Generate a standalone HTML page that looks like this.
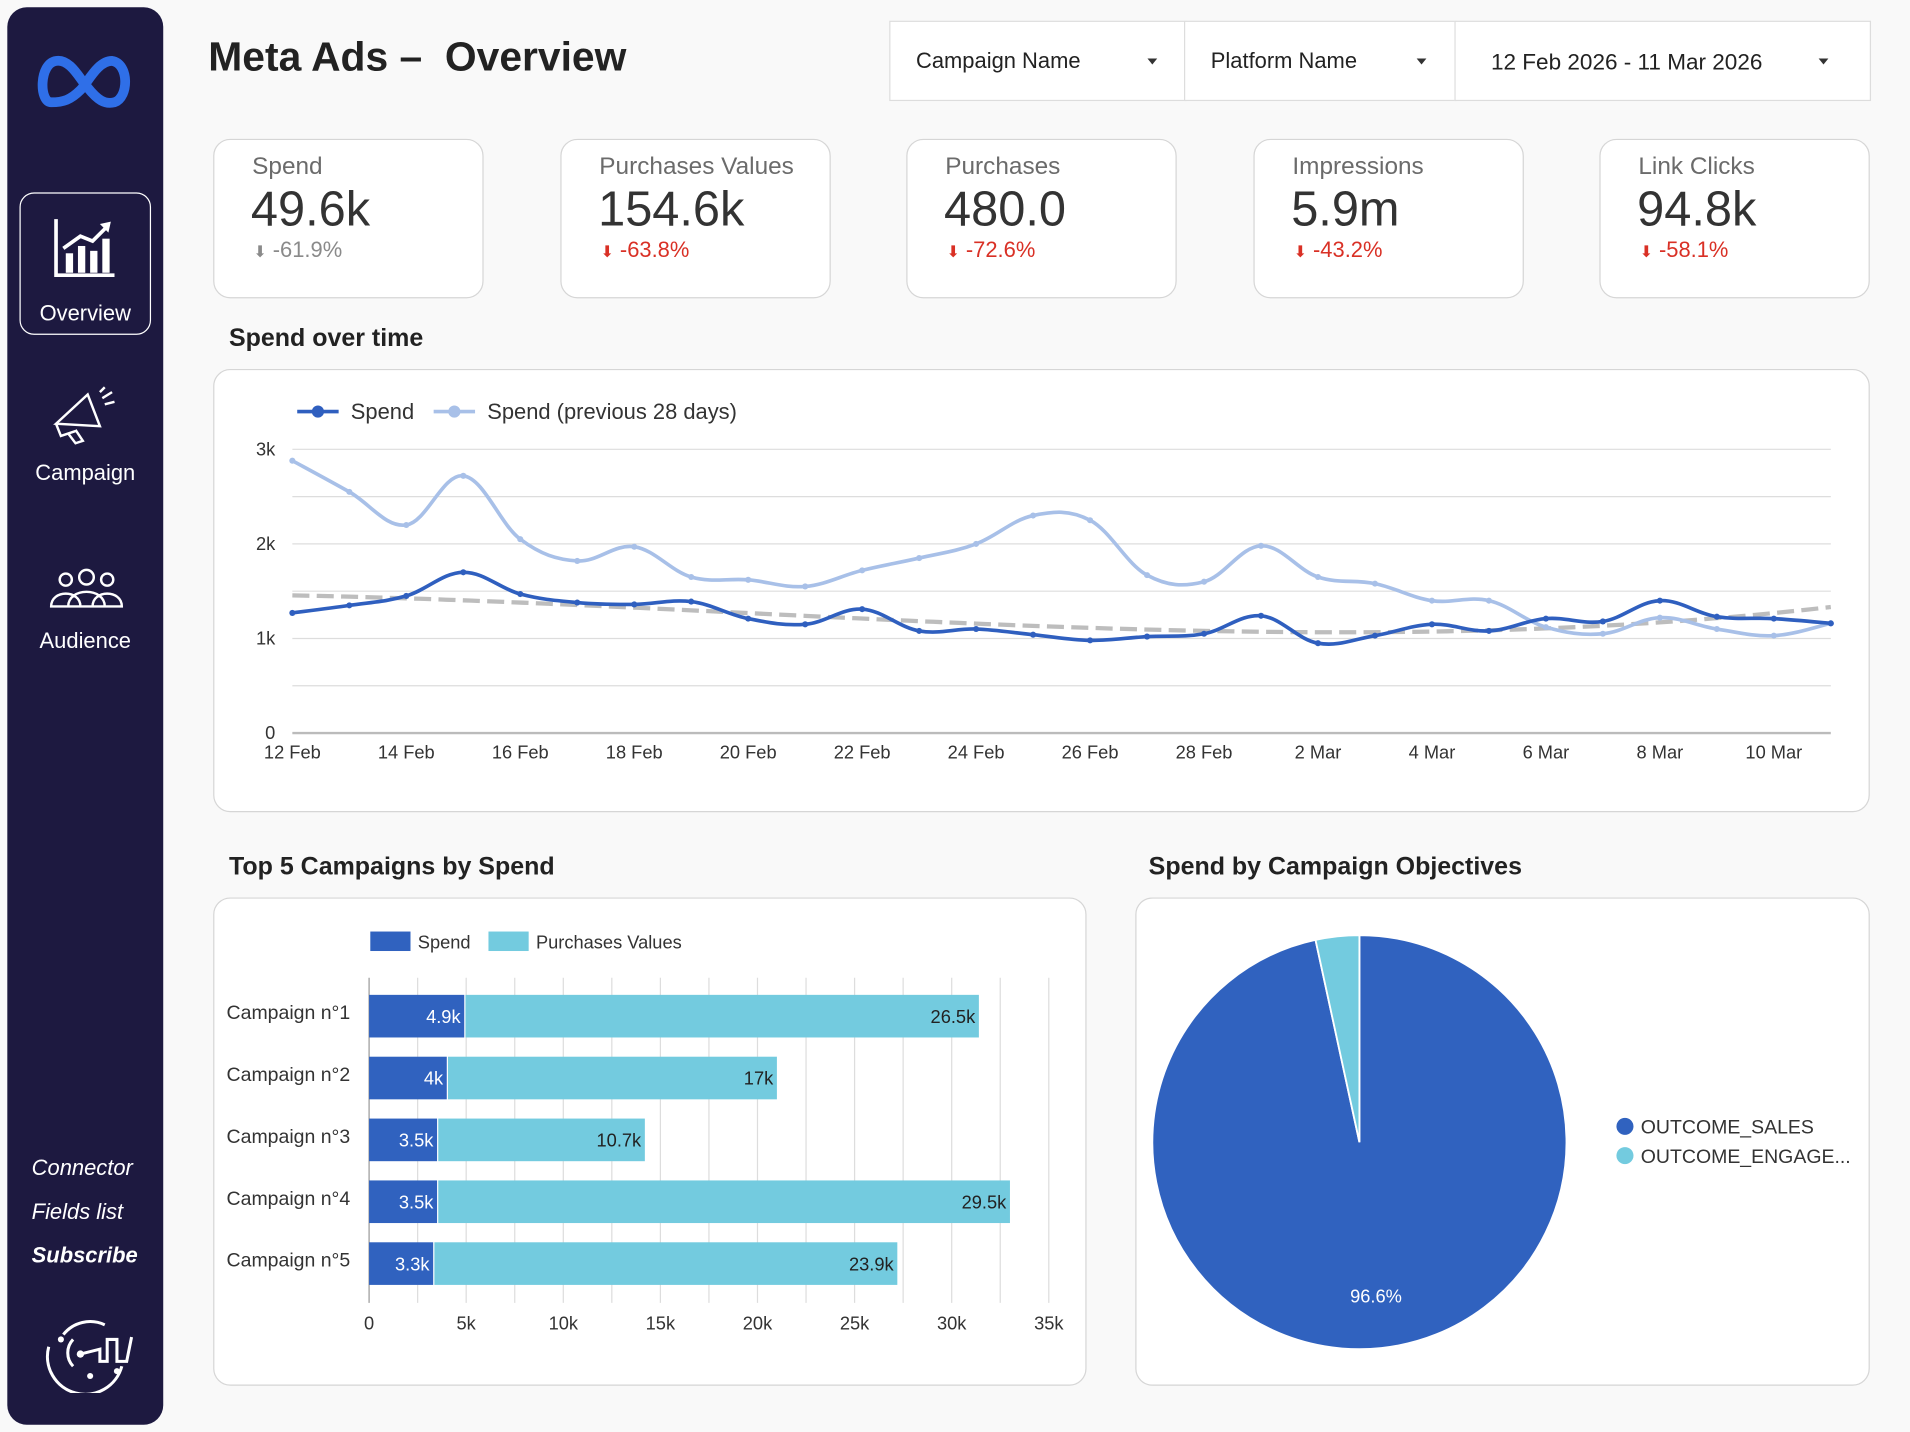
<!DOCTYPE html>
<html><head><meta charset="utf-8">
<style>
html,body{margin:0;padding:0;background:#f9f9f9;}
body{width:1910px;height:1432px;overflow:hidden;font-family:"Liberation Sans",Arial,sans-serif;}
#root{position:absolute;left:0;top:0;width:1568px;height:1176px;transform:scale(1.21811,1.21769);transform-origin:0 0;}
.abs{position:absolute;}
.side{left:6px;top:6px;width:128px;height:1164px;background:#1d1940;border-radius:16px;}
.navtxt{color:#fff;font-size:18px;width:128px;text-align:center;left:6px;}
.card{background:#fff;border:1px solid #d6d6d6;border-radius:14px;}
.klabel{font-size:20px;color:#6b6b6b;}
.kval{font-size:40px;color:#333;}
.kchg{font-size:18px;color:#d93025;}
.sect{font-size:20.5px;font-weight:bold;color:#222;}
.filter{background:#fff;border:1px solid #ddd;font-size:18px;color:#222;}
.arrow{position:absolute;top:30px;width:0;height:0;border-left:4px solid transparent;border-right:4px solid transparent;border-top:5px solid #333;}
</style></head><body>
<div id="root">
<div class="abs side"></div>
<svg class="abs" style="left:30px;top:40px" width="80" height="56" viewBox="0 0 80 56">
<path d="M12 44 C2 44 2 12 16 10 C28 8 36 26 42 32 C50 42 56 46 64 44 C76 40 76 12 62 10 C50 10 42 28 36 34 C28 42 22 44 12 44 Z" fill="none" stroke="#2f6fe8" stroke-width="8"/>
</svg>
<div class="abs" style="left:16px;top:158px;width:106px;height:115px;border:1.5px solid #fff;border-radius:12px"></div>
<svg class="abs" style="left:44px;top:178px" width="52" height="50">
<path d="M2 2 V48 H50" stroke="#fff" stroke-width="3" fill="none"/>
<rect x="10" y="30" width="6" height="16" fill="#fff"/><rect x="20" y="24" width="6" height="22" fill="#fff"/><rect x="30" y="28" width="6" height="18" fill="#fff"/><rect x="40" y="18" width="6" height="28" fill="#fff"/>
<path d="M8 26 L22 16 L32 20 L44 8" stroke="#fff" stroke-width="3" fill="none"/><path d="M38 6 L47 4 L45 13 Z" fill="#fff"/>
</svg>
<div class="abs navtxt" style="top:247px">Overview</div>
<svg class="abs" style="left:42px;top:316px" width="56" height="50">
<path d="M4 32 L30 8 L40 34 Z M4 32 L8 42 L20 38 M14 40 L20 48 L26 46 L20 37" stroke="#fff" stroke-width="2" fill="none"/>
<path d="M40 6 L44 2 M44 16 L52 14 M42 11 L50 6" stroke="#fff" stroke-width="2"/>
</svg>
<div class="abs navtxt" style="top:378px">Campaign</div>
<svg class="abs" style="left:40px;top:466px" width="62" height="36">
<circle cx="14" cy="10" r="5" stroke="#fff" stroke-width="2" fill="none"/><circle cx="31" cy="8" r="6" stroke="#fff" stroke-width="2" fill="none"/><circle cx="48" cy="10" r="5" stroke="#fff" stroke-width="2" fill="none"/>
<path d="M2 32 C2 18 26 18 26 32 Z M36 32 C36 18 60 18 60 32 Z M16 32 C16 16 46 16 46 32 Z" stroke="#fff" stroke-width="2" fill="#1d1940"/>
</svg>
<div class="abs navtxt" style="top:516px">Audience</div>
<div class="abs" style="left:26px;top:949px;color:#fff;font-size:18px;font-style:italic">Connector</div>
<div class="abs" style="left:26px;top:985px;color:#fff;font-size:18px;font-style:italic">Fields list</div>
<div class="abs" style="left:26px;top:1021px;color:#fff;font-size:18px;font-style:italic;font-weight:bold">Subscribe</div>
<svg class="abs" style="left:30px;top:1078px" width="84" height="66">
<path d="M10 28 A30 30 0 0 0 70 44" stroke="#fff" stroke-width="2.5" fill="none"/><path d="M56 10 A28 28 0 0 0 22 18" stroke="#fff" stroke-width="2.5" fill="none"/>
<path d="M30 22 A16 16 0 0 0 30 44" stroke="#fff" stroke-width="2.5" fill="none"/>
<path d="M36 34 L52 30 L52 40 L58 40 L58 22 L66 22 L66 40 L74 40 L78 20" stroke="#fff" stroke-width="2.5" fill="none"/>
<circle cx="20" cy="22" r="2.5" fill="#fff"/><circle cx="36" cy="34" r="3" fill="#fff"/><circle cx="44" cy="52" r="2.5" fill="#fff"/><circle cx="66" cy="48" r="2.5" fill="#fff"/>
</svg>

<div class="abs" style="left:171px;top:29px;font-size:33.5px;font-weight:bold;color:#222;white-space:pre">Meta Ads –  Overview</div>
<div class="abs filter" style="left:730px;top:17px;width:242px;height:64px"><span class="abs" style="left:21px;top:22px">Campaign Name</span><span class="arrow" style="left:211px"></span></div>
<div class="abs filter" style="left:972px;top:17px;width:222px;height:64px"><span class="abs" style="left:21px;top:22px">Platform Name</span><span class="arrow" style="left:190px"></span></div>
<div class="abs filter" style="left:1194px;top:17px;width:340px;height:64px"><span class="abs" style="left:29px;top:22px;font-size:18.5px">12 Feb 2026 - 11 Mar 2026</span><span class="arrow" style="left:298px"></span></div>

<div id="kpis"></div>

<div class="abs sect" style="left:188px;top:266px">Spend over time</div>
<div class="abs card" style="left:175px;top:303px;width:1358px;height:362px"></div>
<svg id="line" class="abs" style="left:0;top:0" width="1568" height="700"></svg>

<div class="abs sect" style="left:188px;top:700px">Top 5 Campaigns by Spend</div>
<div class="abs card" style="left:175px;top:737px;width:715px;height:399px"></div>
<svg id="bar" class="abs" style="left:0;top:0" width="900" height="1176"></svg>

<div class="abs sect" style="left:943px;top:700px">Spend by Campaign Objectives</div>
<div class="abs card" style="left:932px;top:737px;width:601px;height:399px"></div>
<svg id="pie" class="abs" style="left:0;top:0" width="1568" height="1176"></svg>
</div>

<script>
const NS="http://www.w3.org/2000/svg";
function mk(p,tag,a,txt){const e=document.createElementNS(NS,tag);for(const k in a)e.setAttribute(k,a[k]);if(txt!==undefined)e.textContent=txt;p.appendChild(e);return e;}

const kpiLabels=["Spend","Purchases Values","Purchases","Impressions","Link Clicks"];
const kpiValues=["49.6k","154.6k","480.0","5.9m","94.8k"];
const kpiChanges=["-61.9%","-63.8%","-72.6%","-43.2%","-58.1%"];
const kpiLeft=[175,460,744,1029,1313];
const kd=document.getElementById('kpis');
kpiLabels.forEach((l,i)=>{
  const c=document.createElement('div');c.className='abs card';
  
  
  c.style.cssText=`left:${kpiLeft[i]}px;top:114px;width:220px;height:129px`;
  const col=i==0?'#8a8a8a':'#d93025';
  c.innerHTML=`<div class="abs klabel" style="left:31px;top:11px">${l}</div><div class="abs kval" style="left:30px;top:35px">${kpiValues[i]}</div><div class="abs kchg" style="left:32px;top:80px;color:${col}"><span style="font-size:13px">⬇</span> ${kpiChanges[i]}</div>`;
  kd.appendChild(c);
});

const dates=["12 Feb","13 Feb","14 Feb","15 Feb","16 Feb","17 Feb","18 Feb","19 Feb","20 Feb","21 Feb","22 Feb","23 Feb","24 Feb","25 Feb","26 Feb","27 Feb","28 Feb","1 Mar","2 Mar","3 Mar","4 Mar","5 Mar","6 Mar","7 Mar","8 Mar","9 Mar","10 Mar","11 Mar"];
const spend=[1.27,1.35,1.45,1.70,1.47,1.38,1.36,1.39,1.21,1.15,1.31,1.08,1.10,1.04,0.98,1.02,1.05,1.24,0.95,1.03,1.15,1.08,1.21,1.18,1.40,1.23,1.21,1.16];
const spendPrev=[2.88,2.55,2.20,2.72,2.05,1.82,1.97,1.65,1.62,1.55,1.72,1.85,2.00,2.30,2.25,1.67,1.60,1.98,1.65,1.58,1.40,1.40,1.12,1.05,1.22,1.10,1.03,1.16];
const yTicks=[0,1,2,3];
const L=document.getElementById('line');
const lx=i=>240+i*(1503-240)/(dates.length-1);
const ly=v=>602-v*(602-369)/3;
for(let v=0;v<=3;v+=0.5){const g=mk(L,'line',{x1:240,x2:1503,y1:ly(v),y2:ly(v),stroke:v==0?'#bbb':'#ddd','stroke-width':v==0?2:1});}
yTicks.forEach(v=>{const t=mk(L,'text',{x:226,y:ly(v)+5,'text-anchor':'end','font-size':15,fill:'#333'},v==0?'0':v+'k');});
dates.forEach((d,i)=>{if(i%2==0){const t=mk(L,'text',{x:lx(i),y:623,'text-anchor':'middle','font-size':15,fill:'#333'},d);}});
function smooth(pts){let d=`M${pts[0][0]},${pts[0][1]}`;for(let i=0;i<pts.length-1;i++){const p0=pts[i-1]||pts[i],p1=pts[i],p2=pts[i+1],p3=pts[i+2]||p2;const t=0.18;d+=` C${p1[0]+(p2[0]-p0[0])*t},${p1[1]+(p2[1]-p0[1])*t} ${p2[0]-(p3[0]-p1[0])*t},${p2[1]-(p3[1]-p1[1])*t} ${p2[0]},${p2[1]}`;}return d;}
// cubic trendline (least squares)
(function(){const n=spend.length,D=4;const A=[];for(let r=0;r<D;r++){A.push(new Array(D+1).fill(0));}
for(let i=0;i<n;i++){const x=i/(n-1);for(let r=0;r<D;r++){for(let c=0;c<D;c++)A[r][c]+=Math.pow(x,r+c);A[r][D]+=spend[i]*Math.pow(x,r);}}
for(let i=0;i<D;i++){for(let j=i+1;j<D;j++){const f=A[j][i]/A[i][i];for(let k=i;k<=D;k++)A[j][k]-=f*A[i][k];}}
const c=new Array(D).fill(0);for(let i=D-1;i>=0;i--){let s=A[i][D];for(let k=i+1;k<D;k++)s-=A[i][k]*c[k];c[i]=s/A[i][i];}
let d='';for(let i=0;i<=60;i++){const x=i/60;let v=0;for(let k=0;k<D;k++)v+=c[k]*Math.pow(x,k);d+=(i?'L':'M')+(240+x*1263)+','+ly(v);}
const p=mk(L,'path',{d,stroke:'#bdbdbd','stroke-width':3.5,fill:'none','stroke-dasharray':'14 6'});})();
[[spendPrev,'#a8c0e8','prev-spend'],[spend,'#2f5fbf','spend']].forEach(([arr,col,nm])=>{
  const pts=arr.map((v,i)=>[lx(i),ly(v)]);
  const p=mk(L,'path',{d:smooth(pts),stroke:col,'stroke-width':3,fill:'none'});
  pts.forEach(q=>{const c=mk(L,'circle',{cx:q[0],cy:q[1],r:2.5,fill:col});});
});
[[244,'#2f5fbf','Spend',288],[356,'#a8c0e8','Spend (previous 28 days)',400]].forEach(([x,col,t,tx])=>{
  const g=mk(L,'g',{});
  mk(g,'line',{x1:x,x2:x+34,y1:338,y2:338,stroke:col,'stroke-width':3});mk(g,'circle',{cx:x+17,cy:338,r:5,fill:col});
  mk(g,'text',{x:tx,y:344,'font-size':18,fill:'#333'},t);
});

const campaigns=["Campaign n°1","Campaign n°2","Campaign n°3","Campaign n°4","Campaign n°5"];
const barSpend=[4.9,4,3.5,3.5,3.3];
const barPV=[26.5,17,10.7,29.5,23.9];
const barSpendLabels=["4.9k","4k","3.5k","3.5k","3.3k"];
const barPVLabels=["26.5k","17k","10.7k","29.5k","23.9k"];
const xTicks=[0,5,10,15,20,25,30,35];
const B=document.getElementById('bar');
const bx=v=>303+v*(861-303)/35;
for(let v=0;v<=35;v+=2.5){const g=mk(B,'line',{x1:bx(v),x2:bx(v),y1:803,y2:1070,stroke:v==0?'#999':'#ddd','stroke-width':1});}
xTicks.forEach(v=>{const t=mk(B,'text',{x:bx(v),y:1092,'text-anchor':'middle','font-size':15,fill:'#333'},v==0?'0':v+'k');});
campaigns.forEach((c,i)=>{const cy=834+i*50.8;
  const t=mk(B,'text',{x:186,y:cy+3,'font-size':16,fill:'#333'},c);
  const r1=mk(B,'rect',{x:bx(0),y:cy-17,width:bx(barSpend[i])-bx(0),height:35,fill:'#3062bf'});
  const r2=mk(B,'rect',{x:bx(barSpend[i])+1,y:cy-17,width:bx(barPV[i])-bx(0)-1,height:35,fill:'#73cbdf'});
  mk(B,'text',{x:bx(barSpend[i])-3,y:cy+6,'text-anchor':'end','font-size':15,fill:'#fff'},barSpendLabels[i]);
  mk(B,'text',{x:bx(barSpend[i]+barPV[i])-3,y:cy+6,'text-anchor':'end','font-size':15,fill:'#222'},barPVLabels[i]);
});
[[304,'#3062bf','Spend',343],[401,'#73cbdf','Purchases Values',440]].forEach(([x,col,t,tx])=>{
  const g=mk(B,'g',{});
  mk(g,'rect',{x,y:765,width:33,height:16,fill:col});mk(g,'text',{x:tx,y:779,'font-size':15,fill:'#333'},t);
});

const objectives=["OUTCOME_SALES","OUTCOME_ENGAGE..."];
const objShares=[96.6,3.4];
const objColors=['#3062bf','#73cbdf'];
const P=document.getElementById('pie');
const cx=1116,cy=938,R=170;let a0=0;
objShares.forEach((s,i)=>{const a1=a0+s/100*2*Math.PI;
  const x0=cx+R*Math.sin(a0),y0=cy-R*Math.cos(a0),x1=cx+R*Math.sin(a1),y1=cy-R*Math.cos(a1);
  const p=mk(P,'path',{d:`M${cx},${cy} L${x0},${y0} A${R},${R} 0 ${a1-a0>Math.PI?1:0} 1 ${x1},${y1} Z`,fill:objColors[i],stroke:'#fff','stroke-width':1.5});
  
  if(s>10){const am=(a0+a1)/2;mk(P,'text',{x:cx+R*0.75*Math.sin(am),y:cy-R*0.75*Math.cos(am)+5,'text-anchor':'middle','font-size':15,fill:'#fff'},s.toFixed(1)+'%');}
  a0=a1;
  const g=mk(P,'g',{});
  mk(g,'circle',{cx:1334,cy:925+i*24,r:7,fill:objColors[i]});mk(g,'text',{x:1347,y:931+i*24,'font-size':16,fill:'#333'},objectives[i]);
});
</script>
</body></html>
